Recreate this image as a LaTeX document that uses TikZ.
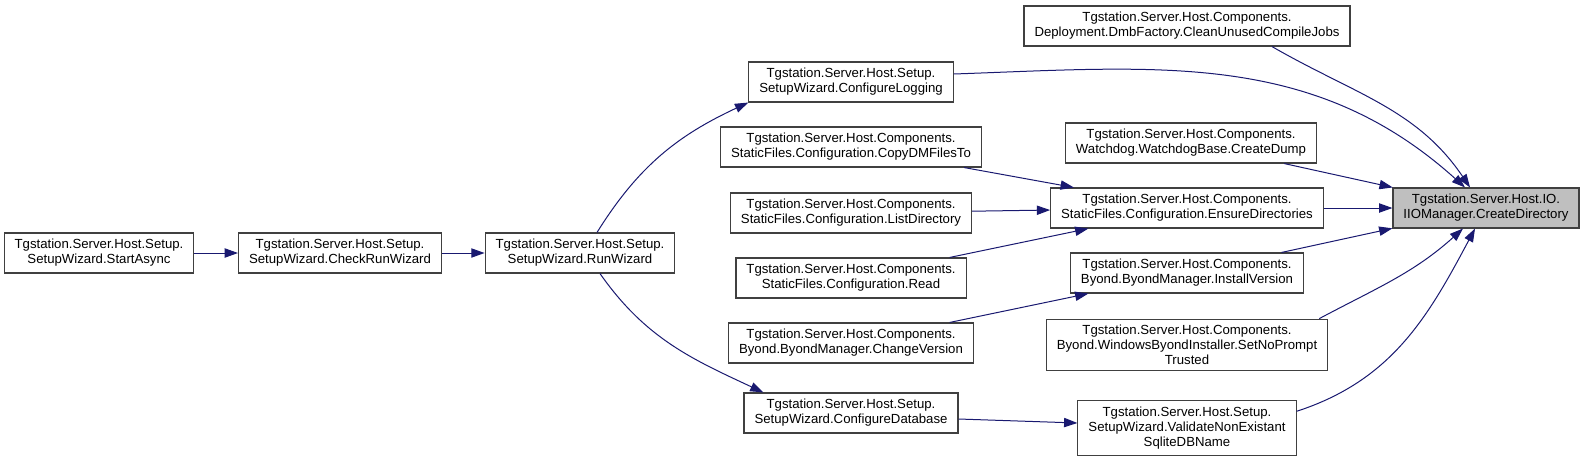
\documentclass[tikz,border=0pt]{standalone}
\usepackage{fontspec}
\setmainfont{Liberation Sans}
\usetikzlibrary{arrows.meta}
\definecolor{azul}{RGB}{25,25,112}
\definecolor{borde}{RGB}{64,64,64}
\definecolor{gris}{RGB}{191,191,191}
\begin{document}
\begin{tikzpicture}[x=1pt, y=1pt,
        metodo/.style={draw=borde, line width=1.1pt, fill=white, align=center, inner xsep=10.5pt,
        inner ysep=6pt, minimum height=40pt, font=\fontsize{13.2}{15}\selectfont},
        actual/.style={metodo, fill=gris},
        flecha/.style={azul, line width=1pt, -{Triangle[length=13.3pt,width=9.3pt]}}
    ]
        \useasboundingbox (0,0) rectangle (1583,-459);
        \node[metodo] (start) at (99,-253) {Tgstation.Server.Host.Setup.\\SetupWizard.StartAsync};
        \node[metodo] (check) at (340,-253) {Tgstation.Server.Host.Setup.\\SetupWizard.CheckRunWizard};
        \node[metodo] (runw) at (580,-253) {Tgstation.Server.Host.Setup.\\SetupWizard.RunWizard};
        \node[metodo] (clog) at (851,-82) {Tgstation.Server.Host.Setup.\\SetupWizard.ConfigureLogging};
        \node[metodo] (copydm) at (851,-147) {Tgstation.Server.Host.Components.\\StaticFiles.Configuration.CopyDMFilesTo};
        \node[metodo] (listdir) at (851,-213) {Tgstation.Server.Host.Components.\\StaticFiles.Configuration.ListDirectory};
        \node[metodo] (read) at (851,-278) {Tgstation.Server.Host.Components.\\StaticFiles.Configuration.Read};
        \node[metodo] (change) at (851,-343) {Tgstation.Server.Host.Components.\\Byond.ByondManager.ChangeVersion};
        \node[metodo] (cdb) at (851,-413) {Tgstation.Server.Host.Setup.\\SetupWizard.ConfigureDatabase};
        \node[metodo] (clean) at (1187,-26) {Tgstation.Server.Host.Components.\\Deployment.DmbFactory.CleanUnusedCompileJobs};
        \node[metodo] (dump) at (1191,-143) {Tgstation.Server.Host.Components.\\Watchdog.WatchdogBase.CreateDump};
        \node[metodo] (ensure) at (1187,-208) {Tgstation.Server.Host.Components.\\StaticFiles.Configuration.EnsureDirectories};
        \node[metodo] (install) at (1187,-273) {Tgstation.Server.Host.Components.\\Byond.ByondManager.InstallVersion};
        \node[metodo] (noprompt) at (1187,-345) {Tgstation.Server.Host.Components.\\Byond.WindowsByondInstaller.SetNoPrompt\\Trusted};
        \node[metodo] (valid) at (1187,-428) {Tgstation.Server.Host.Setup.\\SetupWizard.ValidateNonExistant\\SqliteDBName};
        \node[actual] (cdir) at (1486,-208) {Tgstation.Server.Host.IO.\\IIOManager.CreateDirectory};
        \draw[flecha] (start) -- (check);
        \draw[flecha] (check) -- (runw);
        \draw[flecha] ([xshift=17pt]runw.north) to[out=58,in=205] (clog.south west);
        \draw[flecha] ([xshift=20pt]runw.south) to[out=-55,in=155] ([xshift=20pt]cdb.north west);
        \draw[flecha] ([yshift=8pt]clog.east) to[out=2,in=138] ([xshift=-21pt]cdir.north);
        \draw[flecha] ([xshift=85pt]clean.south) to[out=-30,in=124] ([xshift=-16pt]cdir.north);
        \draw[flecha] (dump) -- (cdir);
        \draw[flecha] (ensure) -- (cdir);
        \draw[flecha] (install) -- (cdir);
        \draw[flecha] ([xshift=-9pt]noprompt.north east) to[out=28,in=-138] ([xshift=-23pt]cdir.south);
        \draw[flecha] ([yshift=-11pt]valid.north east) to[out=18,in=-118] ([xshift=-11pt]cdir.south);
        \draw[flecha] (copydm) -- (ensure);
        \draw[flecha] (listdir) -- (ensure);
        \draw[flecha] (read) -- (ensure);
        \draw[flecha] (change) -- (install);
        \draw[flecha] ([yshift=-6pt]cdb.east) -- ([yshift=5pt]valid.west);
    \end{tikzpicture}
\end{document}
